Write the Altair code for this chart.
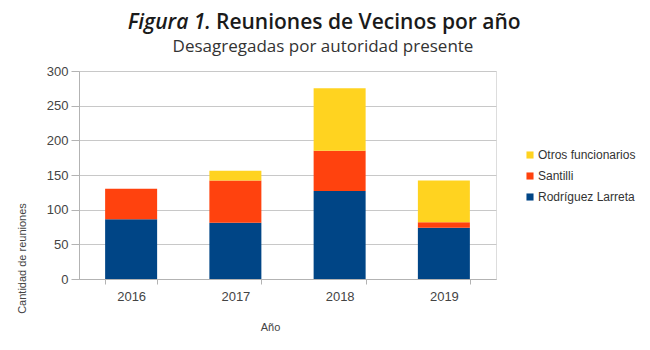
import altair as alt
import pandas as pd

years = ["2016", "2017", "2018", "2019"]
series = ["Rodríguez Larreta", "Santilli", "Otros funcionarios"]
rodriguez_larreta = [86, 81, 127, 74]
santilli = [44, 61, 58, 8]
otros = [0, 14, 90, 60]
colors = ["#004586", "#ff420e", "#ffd320"]

rows = []
for i, y in enumerate(years):
    for k, (name, vals) in enumerate(zip(series, [rodriguez_larreta, santilli, otros])):
        rows.append({"year": y, "serie": name, "value": vals[i], "ord": k})
df = pd.DataFrame(rows)

legend_order = ["Otros funcionarios", "Santilli", "Rodríguez Larreta"]

bars = alt.Chart(df).mark_bar(size=52).encode(
    x=alt.X("year:N", title="Año", sort=years,
            scale=alt.Scale(paddingInner=0.5, paddingOuter=0.25),
            axis=alt.Axis(labelAngle=0, tickBand="extent", tickSize=5,
                          tickColor="#b3b3b3", domainColor="#b3b3b3",
                          labelFont="Liberation Sans", labelFontSize=13,
                          labelColor="#444444", labelPadding=6,
                          titleFont="Liberation Sans", titleFontSize=11,
                          titleFontWeight="normal", titleColor="#444444",
                          titleX=191, titleY=51, titleBaseline="alphabetic")),
    y=alt.Y("value:Q", title="Cantidad de reuniones", stack="zero",
            scale=alt.Scale(domain=[0, 300]),
            axis=alt.Axis(values=[0, 50, 100, 150, 200, 250, 300], tickSize=8,
                          tickColor="#b3b3b3", domainColor="#b3b3b3",
                          gridColor="#c8c8c8", labelFont="Liberation Sans",
                          labelFontSize=13, labelColor="#444444", labelPadding=3,
                          titleFont="Liberation Sans", titleFontSize=11,
                          titleFontWeight="normal", titleColor="#444444",
                          titleX=-57, titleY=187, titleAngle=-90,
                          titleBaseline="middle", titleAlign="center")),
    color=alt.Color("serie:N",
                    scale=alt.Scale(domain=legend_order,
                                    range=[colors[2], colors[1], colors[0]]),
                    legend=alt.Legend(title=None, orient="none", legendX=445,
                                      legendY=78, symbolType="square",
                                      symbolSize=50, symbolStrokeWidth=0,
                                      labelFont="Liberation Sans",
                                      labelFontSize=12, labelColor="#333333",
                                      rowPadding=9, labelOffset=2)),
    order=alt.Order("ord:Q", sort="ascending"),
)

t1 = alt.Chart(pd.DataFrame({"t": ["Figura 1."]})).mark_text(
    font="Open Sans", fontSize=21, fontWeight=600, fontStyle="italic",
    align="right", baseline="alphabetic", color="#1a1a1a"
).encode(text="t:N", x=alt.value(132), y=alt.value(-42))

t2 = alt.Chart(pd.DataFrame({"t": ["Reuniones de Vecinos por año"]})).mark_text(
    font="Open Sans", fontSize=21, fontWeight=600,
    align="left", baseline="alphabetic", color="#1a1a1a"
).encode(text="t:N", x=alt.value(137), y=alt.value(-42))

t3 = alt.Chart(pd.DataFrame({"t": ["Desagregadas por autoridad presente"]})).mark_text(
    font="Open Sans", fontSize=17, align="center", baseline="alphabetic",
    color="#333333"
).encode(text="t:N", x=alt.value(244), y=alt.value(-19))

chart = alt.layer(bars, t1, t2, t3).properties(
    width=417, height=208,
    autosize=alt.AutoSizeParams(type="none"),
    padding={"left": 79, "top": 71, "right": 154, "bottom": 71},
).configure_view(stroke="#b3b3b3").configure(background="white")

chart.save("out.html", embed_options={"renderer": "svg", "actions": False})
